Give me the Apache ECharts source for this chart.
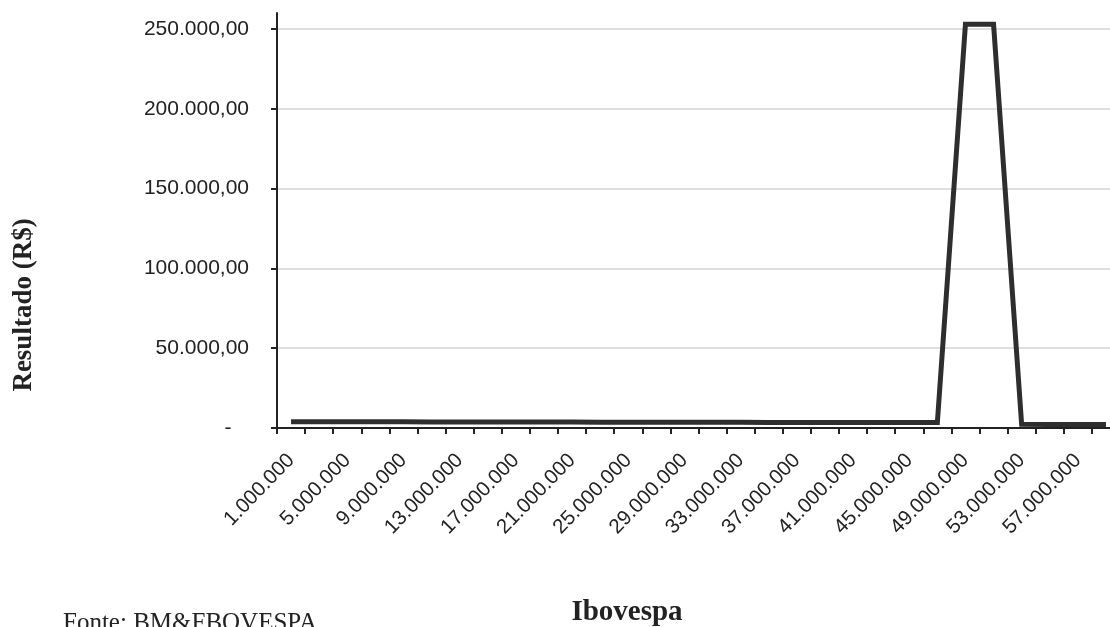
<!DOCTYPE html>
<html>
<head>
<meta charset="utf-8">
<script src="https://cdn.jsdelivr.net/npm/echarts@6/dist/echarts.min.js"></script>
<style>
html,body{margin:0;padding:0;background:#fff;}
#chart{width:1110px;height:627px;}
</style>
</head>
<body>
<div id="chart"></div>
<script>
const categories = ['1.000.000','3.000.000','5.000.000','7.000.000','9.000.000','11.000.000','13.000.000','15.000.000','17.000.000','19.000.000','21.000.000','23.000.000','25.000.000','27.000.000','29.000.000','31.000.000','33.000.000','35.000.000','37.000.000','39.000.000','41.000.000','43.000.000','45.000.000','47.000.000','49.000.000','51.000.000','53.000.000','55.000.000','57.000.000','59.000.000'];
const resultado = [3950,3920,3900,3880,3850,3830,3800,3780,3750,3720,3700,3680,3650,3620,3600,3570,3550,3520,3500,3470,3450,3420,3400,3380,253000,253000,2300,2250,2200,2150];
const yTicks = [0,50000,100000,150000,200000,250000];
const yLabels = {0:'-   ',50000:'50.000,00',100000:'100.000,00',150000:'150.000,00',200000:'200.000,00',250000:'250.000,00'};

const chart = echarts.init(document.getElementById('chart'));
chart.setOption({
  animation:false,
  backgroundColor:'#ffffff',
  grid:{left:277, top:13, width:843, height:415, outerBoundsMode:'none', containLabel:false},
  xAxis:{
    type:'category',
    data:categories,
    boundaryGap:true,
    axisLine:{lineStyle:{color:'#222', width:2}},
    axisTick:{show:true, interval:0, length:6, inside:false, lineStyle:{color:'#222', width:2}},
    axisLabel:{interval:1, rotate:46, margin:29, fontFamily:'Liberation Sans, Arial', fontSize:20.5, color:'#222'},
    splitLine:{show:false}
  },
  yAxis:{
    type:'value',
    min:0, max:260000, interval:50000,
    axisLine:{show:true, lineStyle:{color:'#222', width:2}},
    axisTick:{show:true, length:6, customValues:yTicks, lineStyle:{color:'#222', width:2}},
    axisLabel:{customValues:yTicks, margin:28, fontFamily:'Liberation Sans, Arial', fontSize:21, color:'#222',
      formatter:function(v){ return yLabels[v] !== undefined ? yLabels[v] : ''; }},
    splitLine:{show:true, lineStyle:{color:'#dedede', width:2}}
  },
  series:[{
    type:'line',
    data:resultado,
    showSymbol:false,
    symbol:'none',
    lineStyle:{color:'#2e2e2e', width:5, join:'miter'},
    itemStyle:{color:'#2e2e2e'}
  }],
  graphic:[
    {type:'text', rotation:Math.PI/2, x:24, y:305, style:{text:'Resultado (R$)', font:'bold 27px "Liberation Serif", "Times New Roman", serif', fill:'#222', align:'center', verticalAlign:'middle'}},
    {type:'text', x:627, y:613, style:{text:'Ibovespa', font:'bold 29px "Liberation Serif", "Times New Roman", serif', fill:'#222', align:'center', verticalAlign:'middle'}},
    {type:'text', x:63, y:623, style:{text:'Fonte: BM&FBOVESPA', font:'25px "Liberation Serif", "Times New Roman", serif', fill:'#222', align:'left', verticalAlign:'middle'}}
  ]
});
</script>
</body>
</html>
